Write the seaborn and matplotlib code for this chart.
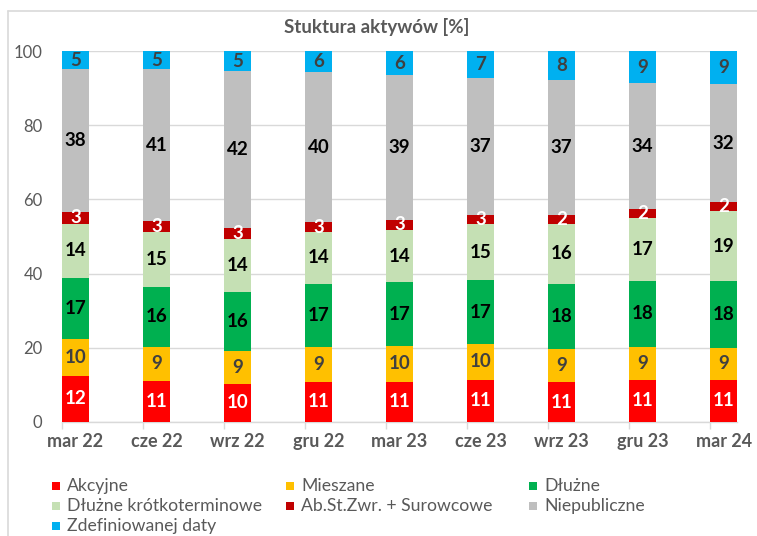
import matplotlib
matplotlib.use("Agg")
import matplotlib.pyplot as plt
from matplotlib.patches import Rectangle
from matplotlib.lines import Line2D
import numpy as np
import pandas as pd
import seaborn as sns

categories = ["mar 22", "cze 22", "wrz 22", "gru 22", "mar 23", "cze 23", "wrz 23", "gru 23", "mar 24"]
series_names = ["Akcyjne", "Mieszane", "Dłużne", "Dłużne krótkoterminowe",
                "Ab.St.Zwr. + Surowcowe", "Niepubliczne", "Zdefiniowanej daty"]
akcyjne = [12.3, 11.0, 10.2, 10.8, 10.7, 11.3, 10.6, 11.3, 11.3]
mieszane = [9.9, 9.3, 8.9, 9.4, 9.8, 9.7, 8.9, 8.9, 8.7]
dluzne = [16.7, 16.1, 15.9, 17.1, 17.1, 17.2, 17.8, 17.8, 18.0]
krotkoterm = [14.4, 14.7, 14.4, 13.8, 14.2, 15.1, 16.0, 17.0, 18.8]
absolute = [3.4, 3.1, 2.9, 2.8, 2.7, 2.6, 2.4, 2.4, 2.4]
niepubliczne = [38.4, 41.0, 42.4, 40.4, 39.1, 37.0, 36.6, 34.0, 31.9]
zdef = [4.9, 4.8, 5.3, 5.7, 6.4, 7.1, 7.7, 8.6, 8.9]
yticks = [0, 20, 40, 60, 80, 100]
title = "Stuktura aktywów [%]"

series = [akcyjne, mieszane, dluzne, krotkoterm, absolute, niepubliczne, zdef]
colors = ["#FF0000", "#FFC000", "#00B050", "#C5E0B4", "#C00000", "#BFBFBF", "#00B0F0"]
label_colors = ["white", "#404040", "black", "black", "white", "black", "#404040"]

sns.set_theme(style="white")
plt.rcParams["font.family"] = ["Lato", "DejaVu Sans"]

W, H = 757, 536
fig = plt.figure(figsize=(W / 100, H / 100), dpi=100)
ax = fig.add_axes([62 / W, 1 - 421.7 / H, (737 - 62) / W, (421.7 - 51.3) / H])

txt = "#595959"
grid = "#D9D9D9"

bottom = np.zeros(len(categories))
for name, vals, col, lc in zip(series_names, series, colors, label_colors):
    df = pd.DataFrame({"cat": categories, "val": vals})
    sns.barplot(data=df, x="cat", y="val", order=categories, color=col, width=0.33,
                bottom=bottom, ax=ax, saturation=1, linewidth=0, errorbar=None, zorder=3)
    for i, v in enumerate(vals):
        ax.text(i, bottom[i] + v / 2, f"{int(np.floor(v + 0.5)):d}", ha="center", va="center",
                fontsize=13.5, fontweight="bold", color=lc, zorder=4)
    bottom = bottom + np.array(vals)

ax.set_xlim(-0.165, len(categories) - 1 + 0.165)
ax.set_ylim(0, 100)
ax.set_yticks(yticks)
ax.set_yticklabels([str(t) for t in yticks], fontsize=12, color=txt)
ax.yaxis.grid(True, color=grid, linewidth=1, zorder=0)
ax.set_axisbelow(True)
ax.set_xticks(range(len(categories)))
ax.set_xticklabels(categories, fontsize=13, fontweight="bold", color=txt)
ax.set_xticks([i - 0.165 for i in range(len(categories))], minor=True)
ax.tick_params(axis="x", which="major", length=0, pad=8)
ax.tick_params(axis="x", which="minor", length=5, color=grid, width=1, bottom=True)
ax.tick_params(axis="y", length=0, pad=14)
ax.set_xlabel("")
ax.set_ylabel("")
for s in ["top", "right", "left"]:
    ax.spines[s].set_visible(False)
ax.spines["bottom"].set_color(grid)
ax.spines["bottom"].set_linewidth(1)

# title
fig.text(377 / W, 1 - 27 / H, title, ha="center", va="center", fontsize=13.5,
         fontweight="bold", color=txt)

# outer frame (left and top edges visible)
fig.add_artist(Line2D([8 / W, 8 / W], [-0.05, 1 - 11 / H], transform=fig.transFigure,
                      color=grid, linewidth=1.2))
fig.add_artist(Line2D([8 / W, 1.05], [1 - 11 / H, 1 - 11 / H], transform=fig.transFigure,
                      color=grid, linewidth=1.2))

# legend (3 columns)
col_x = [52, 286, 529]
row_y = [486, 506, 526]
for k, (name, col) in enumerate(zip(series_names, colors)):
    r, c = divmod(k, 3)
    x0, yc = col_x[c], row_y[r]
    fig.add_artist(Rectangle((x0 / W, 1 - (yc + 4) / H), 8 / W, 8 / H,
                             transform=fig.transFigure, facecolor=col, edgecolor="none"))
    fig.text((x0 + 15) / W, 1 - yc / H, name, ha="left", va="center", fontsize=12.7, color=txt)

fig.savefig("out.png", dpi=100)
